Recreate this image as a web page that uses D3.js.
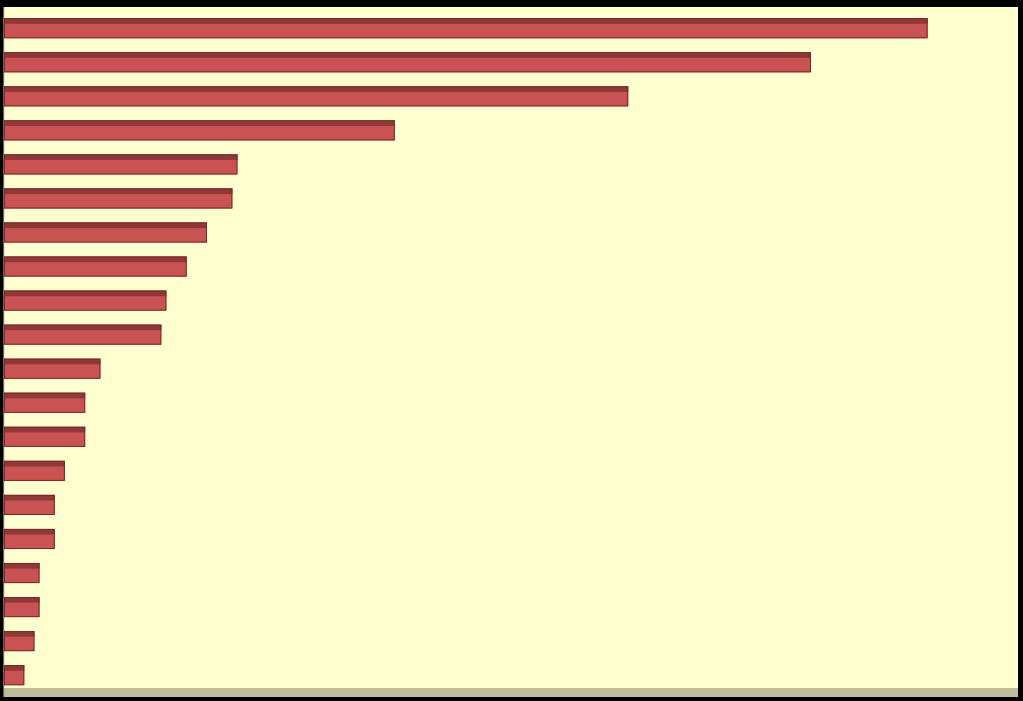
<!DOCTYPE html>
<html>
<head>
<meta charset="utf-8">
<script src="https://cdn.jsdelivr.net/npm/d3@7"></script>
<style>
  html, body { margin: 0; padding: 0; background: #000; }
  svg { display: block; }
</style>
</head>
<body>
<svg id="chart" width="1023" height="701"></svg>
<script>
const categories = ["Item 1","Item 2","Item 3","Item 4","Item 5","Item 6","Item 7","Item 8","Item 9","Item 10",
                    "Item 11","Item 12","Item 13","Item 14","Item 15","Item 16","Item 17","Item 18","Item 19","Item 20"];
const values = [182, 159, 123, 77, 46, 45, 40, 36, 32, 31, 19, 16, 16, 12, 10, 10, 7, 7, 6, 4];
const xDomain = [0, 200];

const svg = d3.select("#chart");
const W = 1023, H = 701;
svg.append("rect").attr("width", W).attr("height", H).attr("fill", "#000");

const plot = { left: 4, right: 1018, top: 7, bottom: 688 };
// plot background
svg.append("rect").attr("x", plot.left).attr("y", plot.top)
  .attr("width", plot.right - plot.left).attr("height", plot.bottom - plot.top)
  .attr("fill", "#ffffd0");
// floor strip
svg.append("rect").attr("x", plot.left).attr("y", plot.bottom)
  .attr("width", plot.right - plot.left).attr("height", 9)
  .attr("fill", "#bfbf9d");
// left wall edge
svg.append("rect").attr("x", 3).attr("y", plot.top)
  .attr("width", 1.2).attr("height", plot.bottom + 9 - plot.top)
  .attr("fill", "#6a6a5a");

const x = d3.scaleLinear().domain(xDomain).range([plot.left, 1019]);
const y = d3.scaleBand().domain(categories).range([11.2, 692.2]).paddingInner(0.41).paddingOuter(0.205);

const data = categories.map((c, i) => ({ c, v: values[i] }));
const g = svg.append("g");
const bars = g.selectAll("g.bar").data(data).join("g").attr("class", "bar");
bars.append("rect")
  .attr("x", x(0)).attr("y", d => y(d.c))
  .attr("width", d => x(d.v) - x(0)).attr("height", y.bandwidth())
  .attr("fill", "#c95352");
bars.append("rect")
  .attr("x", x(0)).attr("y", d => y(d.c))
  .attr("width", d => x(d.v) - x(0)).attr("height", y.bandwidth() * 0.28)
  .attr("fill", "#8f3838");
bars.append("rect")
  .attr("x", x(0) + 0.5).attr("y", d => y(d.c) + 0.5)
  .attr("width", d => x(d.v) - x(0) - 1).attr("height", y.bandwidth() - 1)
  .attr("fill", "none").attr("stroke", "#7a2828").attr("stroke-width", 1);
</script>
</body>
</html>
